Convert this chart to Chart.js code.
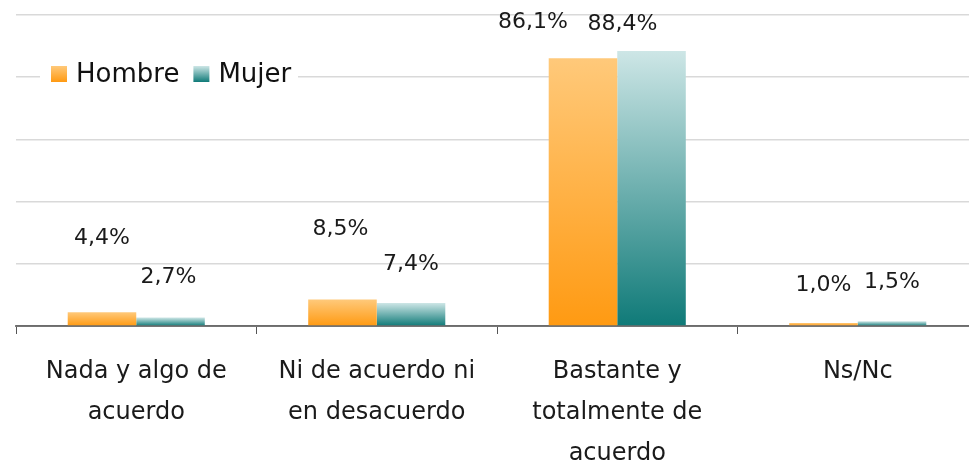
<!DOCTYPE html>
<html>
<head>
<meta charset="utf-8">
<style>
  html, body { margin: 0; padding: 0; background: #fff; overflow: hidden; }
  #wrap { width: 980px; height: 463px; }
</style>
<script src="https://cdn.jsdelivr.net/npm/chart.js@4/dist/chart.umd.min.js"></script>
</head>
<body>
<div id="wrap"><canvas id="chart" width="980" height="463"></canvas></div>
<script>
// Data
const categories = [
  ['Nada y algo de', 'acuerdo'],
  ['Ni de acuerdo ni', 'en desacuerdo'],
  ['Bastante y', 'totalmente de', 'acuerdo'],
  'Ns/Nc'
];
const hombre = [4.4, 8.5, 86.1, 1.0];
const mujer = [2.7, 7.4, 88.4, 1.5];
const yTicks = [0, 20, 40, 60, 80, 100];

// Label nudges (px) so the value labels sit where the original put them
const labelShift = [
  { dx: [0, -2, -50, 0], dy: [-74, -70, -36, -38] },
  { dx: [-2, 0, -29, 0], dy: [-40, -39, -27, -39] }
];

const gradientStops = [
  ['#ffc97a', '#ff9a12'],
  ['#cde6e6', '#0f7a78']
];

const FONT = '"DejaVu Sans", Verdana, sans-serif';

function barGradient(dsIndex) {
  return function (ctx) {
    const chart = ctx.chart;
    const y = chart.scales.y;
    if (!chart.chartArea || !y || ctx.raw == null) return gradientStops[dsIndex][1];
    const top = y.getPixelForValue(ctx.raw);
    const bottom = y.getPixelForValue(0);
    const g = chart.ctx.createLinearGradient(0, top, 0, bottom);
    g.addColorStop(0, gradientStops[dsIndex][0]);
    g.addColorStop(1, gradientStops[dsIndex][1]);
    return g;
  };
}

// Value labels above bars
const valueLabels = {
  id: 'valueLabels',
  afterDatasetsDraw(chart) {
    const c = chart.ctx;
    c.save();
    c.font = '22px ' + FONT;
    c.fillStyle = '#1a1a1a';
    c.textAlign = 'center';
    c.textBaseline = 'middle';
    chart.data.datasets.forEach((ds, i) => {
      chart.getDatasetMeta(i).data.forEach((bar, j) => {
        const txt = ds.data[j].toFixed(1).replace('.', ',') + '%';
        c.fillText(txt, bar.x + labelShift[i].dx[j], bar.y + labelShift[i].dy[j]);
      });
    });
    c.restore();
  }
};

// Legend sitting on the 80% gridline with a white box behind it
const boxLegend = {
  id: 'boxLegend',
  afterDraw(chart) {
    const c = chart.ctx;
    c.save();
    c.fillStyle = '#fff';
    c.fillRect(40, 62, 258, 28);
    c.font = '26px ' + FONT;
    c.textBaseline = 'middle';
    c.textAlign = 'left';
    let x = 51;
    const y = 74;
    chart.data.datasets.forEach((ds, i) => {
      const g = c.createLinearGradient(0, y - 8, 0, y + 8);
      g.addColorStop(0, gradientStops[i][0]);
      g.addColorStop(1, gradientStops[i][1]);
      c.fillStyle = g;
      c.fillRect(x, y - 8, 16, 16);
      c.fillStyle = '#111';
      c.fillText(ds.label, x + 25, y + 1);
      x += 25 + c.measureText(ds.label).width + 14;
    });
    c.restore();
  }
};

new Chart(document.getElementById('chart'), {
  type: 'bar',
  data: {
    labels: categories,
    datasets: [
      { label: 'Hombre', data: hombre, backgroundColor: barGradient(0) },
      { label: 'Mujer', data: mujer, backgroundColor: barGradient(1) }
    ]
  },
  options: {
    responsive: false,
    animation: false,
    layout: { padding: { top: 15, right: 2, left: 0, bottom: 0 } },
    datasets: { bar: { categoryPercentage: 0.57, barPercentage: 1 } },
    plugins: { legend: { display: false }, tooltip: { enabled: false } },
    scales: {
      x: {
        z: 1,
        grid: { drawOnChartArea: false, drawTicks: true, tickLength: 8, color: '#555', offset: true },
        border: { display: true, color: 'rgba(0,0,0,0.5)', width: 2 },
        ticks: {
          color: '#1a1a1a',
          font: { family: FONT, size: 24, lineHeight: 1.71 },
          padding: 17,
          maxRotation: 0,
          autoSkip: false
        },
        afterFit(scale) { scale.height = 137; }
      },
      y: {
        min: 0,
        max: 100,
        afterBuildTicks(scale) { scale.ticks = yTicks.map(v => ({ value: v })); },
        ticks: { display: false },
        grid: { color: '#d9d9d9', lineWidth: 1.5, drawTicks: false },
        border: { display: false },
        afterFit(scale) { scale.width = 16; }
      }
    }
  },
  plugins: [valueLabels, boxLegend]
});
</script>
</body>
</html>
